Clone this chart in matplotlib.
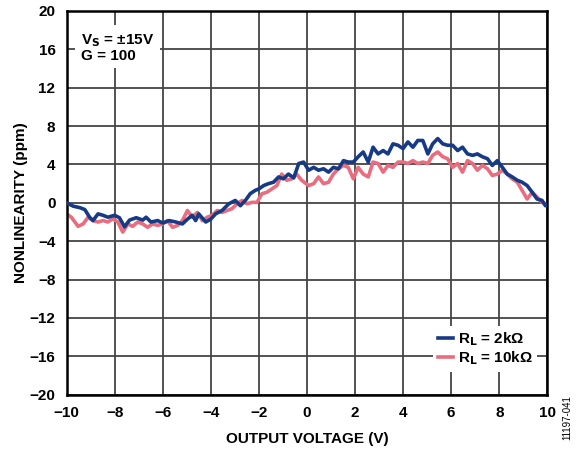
import numpy as np
import matplotlib
matplotlib.use("Agg")
import matplotlib.pyplot as plt

plt.rcParams['font.family'] = ['Liberation Sans', 'DejaVu Sans']

# RL = 2k (blue)
v_2k = [-10.0, -9.72, -9.45, -9.24, -9.04, -8.9, -8.69, -8.48, -8.28, -8.0,
        -7.8, -7.59, -7.38, -7.1, -6.83, -6.69, -6.49, -6.21, -6.0, -5.73,
        -5.45, -5.18, -4.97, -4.77, -4.63, -4.5, -4.21, -4.0, -3.8, -3.53,
        -3.25, -2.98, -2.77, -2.56, -2.36, -2.15, -2.0, -1.8, -1.6, -1.39,
        -1.18, -0.98, -0.77, -0.55, -0.34, -0.14, 0.07, 0.28, 0.48, 0.69,
        0.9, 1.1, 1.31, 1.52, 1.72, 1.93, 2.13, 2.34, 2.55, 2.75,
        2.96, 3.17, 3.37, 3.58, 3.79, 4.0, 4.2, 4.41, 4.61, 4.82,
        5.03, 5.23, 5.44, 5.65, 5.85, 6.06, 6.27, 6.47, 6.68, 6.89,
        7.09, 7.3, 7.51, 7.71, 7.92, 8.13, 8.33, 8.54, 8.75, 8.95,
        9.16, 9.37, 9.57, 9.78, 9.92, 10.0]
nl_2k = [0.0, -0.35, -0.5, -0.7, -1.5, -1.85, -1.15, -1.3, -1.5, -1.3,
         -1.55, -2.5, -1.8, -1.55, -1.8, -1.5, -2.0, -1.85, -2.1, -1.85,
         -2.0, -2.2, -1.7, -1.3, -1.85, -1.15, -2.0, -1.7, -1.15, -0.8,
         -0.1, 0.25, -0.3, 0.25, 0.95, 1.3, 1.45, 1.8, 2.0, 2.15,
         2.7, 2.5, 3.0, 2.6, 4.1, 4.25, 3.4, 3.7, 3.4, 3.55,
         3.2, 3.7, 3.55, 4.4, 4.25, 4.25, 4.8, 5.3, 4.25, 5.8,
         5.1, 5.45, 5.1, 6.15, 6.0, 5.65, 6.35, 5.8, 6.5, 6.5,
         5.1, 6.15, 6.7, 6.15, 6.0, 6.0, 5.45, 5.8, 5.1, 4.95,
         5.1, 4.8, 4.6, 3.9, 4.4, 3.7, 3.0, 2.7, 2.35, 2.15,
         1.8, 1.1, 0.4, 0.25, -0.3, -0.2]

# RL = 10k (pink)
v_10k = [-10.0, -9.8, -9.52, -9.31, -9.1, -8.9, -8.69, -8.48, -8.28, -8.07,
         -7.87, -7.66, -7.45, -7.25, -7.04, -6.83, -6.63, -6.42, -6.21, -6.0,
         -5.8, -5.59, -5.38, -5.18, -4.97, -4.77, -4.56, -4.35, -4.15, -3.94,
         -3.73, -3.53, -3.32, -3.11, -2.91, -2.7, -2.49, -2.29, -2.08, -1.87,
         -1.67, -1.46, -1.25, -1.05, -0.84, -0.63, -0.43, -0.22, 0.07, 0.28,
         0.48, 0.69, 0.9, 1.1, 1.31, 1.52, 1.72, 1.93, 2.13, 2.34,
         2.55, 2.75, 2.96, 3.17, 3.37, 3.58, 3.79, 4.0, 4.2, 4.41,
         4.61, 4.82, 5.03, 5.23, 5.44, 5.65, 5.85, 6.06, 6.27, 6.47,
         6.68, 6.89, 7.09, 7.3, 7.51, 7.71, 7.92, 8.13, 8.33, 8.54,
         8.75, 8.95, 9.16, 9.37, 9.57, 9.78, 9.92, 10.0]
nl_10k = [-1.15, -1.5, -2.45, -2.2, -1.5, -1.85, -2.0, -1.85, -2.0, -1.65,
          -2.0, -3.05, -2.2, -2.45, -2.0, -2.2, -2.55, -2.2, -2.35, -2.2,
          -1.85, -2.55, -2.35, -1.85, -0.8, -1.5, -1.0, -1.85, -1.5, -1.3,
          -0.8, -1.0, -0.8, -0.6, -0.1, 0.25, -0.1, 0.05, 0.05, 0.95,
          1.1, 1.45, 1.8, 3.0, 2.35, 2.5, 3.0, 2.35, 1.8, 2.0,
          2.7, 2.0, 2.15, 3.0, 3.55, 3.9, 3.7, 2.5, 3.7, 3.0,
          2.7, 4.25, 4.1, 3.2, 3.9, 3.7, 4.25, 4.25, 4.1, 4.4,
          4.1, 4.25, 4.1, 4.95, 5.3, 4.8, 4.6, 3.7, 4.1, 3.2,
          4.4, 4.1, 3.4, 3.9, 3.55, 2.85, 3.0, 3.4, 3.0, 2.5,
          2.15, 1.3, 0.4, 1.1, 0.6, 0.05, -0.1, -0.3]

fig = plt.figure(figsize=(5.77, 4.5), dpi=100)
ax = fig.add_axes([0.1153, 0.1229, 0.8333, 0.8527])

ax.plot(v_2k, nl_2k, color='#163a86', lw=2.6, label='R$_\\mathbf{L}$ = 2k\u03a9', zorder=3)
ax.plot(v_10k, nl_10k, color='#e96d7f', lw=2.6, label='R$_\\mathbf{L}$ = 10k\u03a9', zorder=2)

ax.set_xlim(-10, 10)
ax.set_ylim(-20, 20)
ax.set_xticks(np.arange(-10, 11, 2))
ax.set_yticks(np.arange(-20, 21, 4))
ax.grid(True, color='#444444', lw=1.3)
ax.tick_params(length=0, pad=8, labelsize=11)
for lab in ax.get_xticklabels() + ax.get_yticklabels():
    lab.set_fontweight('bold')
for s in ax.spines.values():
    s.set_linewidth(1.8)

ax.set_xlabel('OUTPUT VOLTAGE (V)', fontsize=11, fontweight='bold', labelpad=9)
ax.set_ylabel('NONLINEARITY (ppm)', fontsize=11, fontweight='bold', labelpad=1)

ax.text(0.03, 0.945, 'V$_\\mathbf{S}$ = \u00b115V\nG = 100', transform=ax.transAxes,
        fontsize=11, fontweight='bold', va='top', ha='left', linespacing=1.0,
        bbox=dict(facecolor='white', edgecolor='none', pad=4), zorder=5)

leg = ax.legend(loc='lower right', bbox_to_anchor=(0.995, 0.04), frameon=True,
                fancybox=False, edgecolor='none', facecolor='white', framealpha=1,
                handlelength=1.0, handletextpad=0.3, borderpad=0.3, labelspacing=0.1,
                prop={'size': 11, 'weight': 'bold'})
leg.set_zorder(5)

fig.text(0.984, 0.071, '11197-041', rotation=90, fontsize=7, ha='center', va='center')

fig.savefig('out.png', dpi=100)
